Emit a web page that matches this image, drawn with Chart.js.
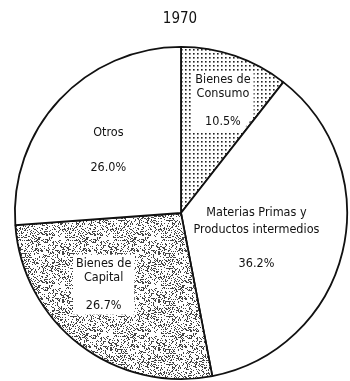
<!DOCTYPE html>
<html>
<head>
<meta charset="utf-8">
<script src="https://cdn.jsdelivr.net/npm/chart.js@4.4.1/dist/chart.umd.min.js"></script>
<style>
  html, body { margin: 0; padding: 0; background: #fff; }
  #wrap { width: 350px; height: 381px; }
</style>
</head>
<body>
<div id="wrap"><canvas id="pieChart" width="350" height="381"></canvas></div>
<script>
const chartTitle = '1970';
const categories = [
    ['Bienes de', 'Consumo'],
    ['Materias Primas y', 'Productos intermedios'],
    ['Bienes de', 'Capital'],
    ['Otros']
];
const shares = [10.5, 36.2, 26.7, 26.0];

const FONT = '"DejaVu Sans Condensed", "Liberation Sans Narrow", sans-serif';

// sparse dot grid for the consumer goods slice
function dotPattern() {
    const c = document.createElement('canvas');
    c.width = 4; c.height = 4;
    const g = c.getContext('2d');
    g.fillStyle = '#fff';
    g.fillRect(0, 0, 4, 4);
    g.fillStyle = '#222';
    g.fillRect(1, 1, 1.6, 1.6);
    return g.createPattern(c, 'repeat');
}

// dense speckle for capital goods (hash based texture, fixed)
function stipplePattern() {
    const size = 48;
    const c = document.createElement('canvas');
    c.width = size; c.height = size;
    const g = c.getContext('2d');
    g.fillStyle = '#fff';
    g.fillRect(0, 0, size, size);
    g.fillStyle = '#444';
    for (let y = 0; y < size; y++) {
        for (let x = 0; x < size; x++) {
            let h = (x * 374761393 + y * 668265263) | 0;
            h = Math.imul(h ^ (h >>> 13), 1274126177);
            h = (h ^ (h >>> 16)) >>> 0;
            if (h % 100 < 27) g.fillRect(x, y, 1, 1);
        }
    }
    return g.createPattern(c, 'repeat');
}

// where each label block sits inside its slice (fraction of radius / of the slice's sweep)
const labelSpots = [
    { r: 0.72, a: 0.54, lh: 14, box: true },
    { r: 0.48, a: 0.54, lh: 17, box: false },
    { r: 0.635, a: 0.60, lh: 14, box: true },
    { r: 0.58, a: 0.48, lh: 17.5, box: false }
];

const sliceLabels = {
    id: 'sliceLabels',
    afterDatasetsDraw(chart) {
        const ctx = chart.ctx;
        const arcs = chart.getDatasetMeta(0).data;
        ctx.save();
        ctx.font = '12.5px ' + FONT;
        ctx.textAlign = 'center';
        ctx.textBaseline = 'middle';
        arcs.forEach((arc, i) => {
            const spot = labelSpots[i];
            const p = arc.getProps(['x', 'y', 'startAngle', 'endAngle', 'outerRadius'], true);
            const ang = p.startAngle + spot.a * (p.endAngle - p.startAngle);
            const cx = p.x + Math.cos(ang) * p.outerRadius * spot.r;
            const cy = p.y + Math.sin(ang) * p.outerRadius * spot.r;
            const lines = categories[i].concat(['', shares[i].toFixed(1) + '%']);
            const top = cy - (lines.length - 1) * spot.lh / 2;
            if (spot.box) {
                const w = Math.max(...lines.map(l => ctx.measureText(l).width)) + 6;
                const h = (lines.length - 1) * spot.lh + 18;
                ctx.save();
                ctx.beginPath();
                ctx.moveTo(p.x, p.y);
                ctx.arc(p.x, p.y, p.outerRadius - 2, p.startAngle + 0.02, p.endAngle - 0.02);
                ctx.closePath();
                ctx.clip();
                ctx.fillStyle = '#fff';
                ctx.fillRect(cx - w / 2, cy - h / 2, w, h);
                ctx.restore();
            }
            ctx.fillStyle = '#111';
            lines.forEach((l, k) => ctx.fillText(l, cx, top + k * spot.lh));
        });
        // title
        ctx.font = '15px ' + FONT;
        ctx.fillText(chartTitle, chart.chartArea.left + (chart.chartArea.right - chart.chartArea.left) / 2 - 1, 19);
        ctx.restore();
    }
};

const ctx = document.getElementById('pieChart').getContext('2d');
new Chart(ctx, {
    type: 'pie',
    data: {
        labels: categories.map(c => c.join(' ')),
        datasets: [{
            data: shares,
            backgroundColor: [dotPattern(), '#fff', stipplePattern(), '#fff'],
            borderColor: '#111',
            borderWidth: 1.8
        }]
    },
    options: {
        responsive: false,
        animation: false,
        layout: { padding: { top: 46, left: 14, right: 2, bottom: 1 } },
        plugins: {
            legend: { display: false },
            tooltip: { enabled: false },
            title: { display: false }
        }
    },
    plugins: [sliceLabels]
});
</script>
</body>
</html>
